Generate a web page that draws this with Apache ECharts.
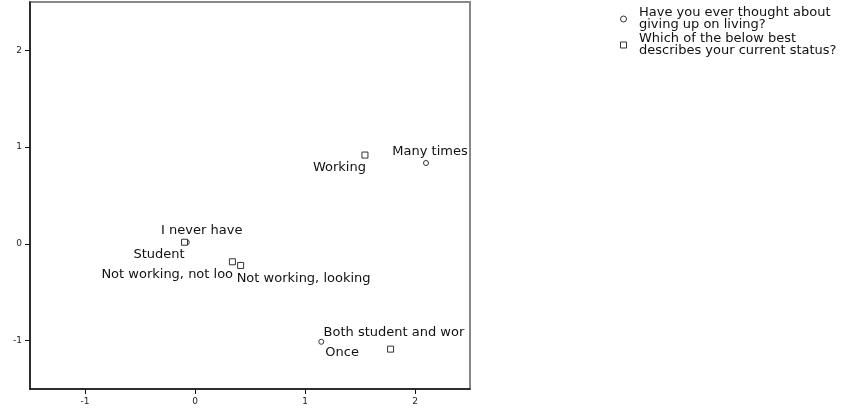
<!DOCTYPE html>
<html>
<head>
<meta charset="utf-8">
<script src="https://cdn.jsdelivr.net/npm/echarts@6/dist/echarts.min.js"></script>
<style>
  html, body { margin: 0; padding: 0; background: #fff; }
  #chart { width: 851px; height: 412px; }
</style>
</head>
<body>
<div id="chart"></div>
<script>
// Category points: "Have you ever thought about giving up on living?"
const thoughtNames = ['Many times', 'I never have', 'Once'];
const thoughtX = [2.10, -0.075, 1.148];
const thoughtY = [0.836, 0.017, -1.012];

// Category points: "Which of the below best describes your current status?"
const statusNames = ['Working', 'Student', 'Not working, not looking', 'Not working, looking', 'Both student and working'];
const statusX = [1.545, -0.095, 0.34, 0.415, 1.778];
const statusY = [0.918, 0.017, -0.185, -0.223, -1.088];

// Axis tick values
const tickValues = [-1, 0, 1, 2];

const seriesNames = [
  'Have you ever thought about\ngiving up on living?',
  'Which of the below best\ndescribes your current status?'
];

// Where each point label sits relative to its marker
const labelPlacement = {
  'Many times':               { align: 'center', offset: [4, -11] },
  'I never have':             { align: 'center', offset: [15, -12] },
  'Once':                     { align: 'left',   offset: [4, 11] },
  'Working':                  { align: 'right',  offset: [1, 13] },
  'Student':                  { align: 'right',  offset: [0, 12] },
  'Not working, not looking': { align: 'left',   offset: [-131, 13], width: 134 },
  'Not working, looking':     { align: 'left',   offset: [-4, 13] },
  'Both student and working': { align: 'left',   offset: [-67, -17], width: 148 }
};

const FONT = 'DejaVu Sans';

function buildPoints(names, xs, ys) {
  return names.map((n, i) => {
    const p = labelPlacement[n];
    const label = {
      show: true,
      position: 'inside',
      align: p.align,
      verticalAlign: 'middle',
      offset: p.offset
    };
    if (p.width) {
      label.width = p.width;
      label.overflow = 'truncate';
      label.ellipsis = '';
    }
    return { name: n, value: [xs[i], ys[i]], label: label };
  });
}

const labelStyle = {
  show: true,
  formatter: '{b}',
  color: '#111',
  fontFamily: FONT,
  fontSize: 13
};

const chart = echarts.init(document.getElementById('chart'), null, { renderer: 'canvas' });

chart.setOption({
  animation: false,
  backgroundColor: '#fff',
  textStyle: { fontFamily: FONT },
  grid: {
    left: 30, top: 2, width: 440, height: 387,
    show: true, borderColor: '#888', borderWidth: 2, backgroundColor: 'transparent'
  },
  legend: {
    orient: 'vertical',
    left: 620,
    top: 6,
    padding: 0,
    itemGap: 0,
    itemWidth: 21,
    itemHeight: 6,
    selectedMode: false,
    data: [
      { name: seriesNames[0], icon: 'circle' },
      { name: seriesNames[1], icon: 'path://M0,0H10V10H0Z' }
    ],
    itemStyle: { color: '#fff', borderColor: '#333', borderWidth: 1 },
    textStyle: { fontFamily: FONT, fontSize: 13, color: '#111', lineHeight: 12, padding: [2, 0, 0, 0] }
  },
  xAxis: {
    type: 'value',
    min: -1.5,
    max: 2.5,
    splitLine: { show: false },
    axisLine: { show: true, onZero: false, lineStyle: { color: '#111', width: 1.5 } },
    axisTick: { show: true, length: 5, customValues: tickValues, lineStyle: { color: '#111' } },
    axisLabel: { customValues: tickValues, margin: 8, fontSize: 9, color: '#222', fontFamily: FONT }
  },
  yAxis: {
    type: 'value',
    min: -1.5,
    max: 2.5,
    splitLine: { show: false },
    axisLine: { show: true, onZero: false, lineStyle: { color: '#111', width: 1.5 } },
    axisTick: { show: true, length: 5, customValues: tickValues, lineStyle: { color: '#111' } },
    axisLabel: { customValues: tickValues, margin: 8, fontSize: 9, color: '#222', fontFamily: FONT }
  },
  series: [
    {
      name: seriesNames[0],
      type: 'scatter',
      symbol: 'circle',
      symbolSize: 5,
      itemStyle: { color: '#fff', borderColor: '#333', borderWidth: 1, opacity: 1 },
      label: labelStyle,
      data: buildPoints(thoughtNames, thoughtX, thoughtY)
    },
    {
      name: seriesNames[1],
      type: 'scatter',
      symbol: 'rect',
      symbolSize: 6,
      itemStyle: { color: '#fff', borderColor: '#333', borderWidth: 1, opacity: 1 },
      label: labelStyle,
      data: buildPoints(statusNames, statusX, statusY)
    }
  ]
});
</script>
</body>
</html>
